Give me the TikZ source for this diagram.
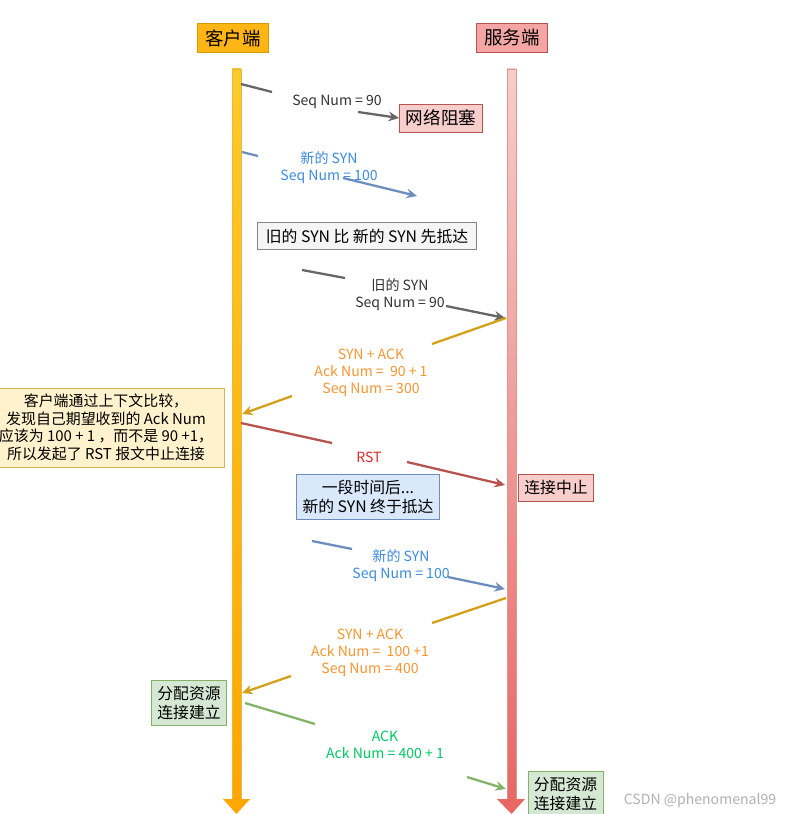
\documentclass[tikz,border=0pt]{standalone}
\usepackage{fontspec}
\setmainfont{Noto Sans CJK SC}
\usepackage{xcolor}
\definecolor{clfill}{RGB}{255,181,20}
\definecolor{clline}{RGB}{215,155,0}
\definecolor{cltop}{RGB}{255,202,40}
\definecolor{clbot}{RGB}{255,166,0}
\definecolor{svfill}{RGB}{244,166,164}
\definecolor{svline}{RGB}{184,84,80}
\definecolor{svtop}{RGB}{248,204,202}
\definecolor{svbot}{RGB}{232,104,100}
\definecolor{pinkfill}{RGB}{248,206,204}
\definecolor{grayfill}{RGB}{245,245,245}
\definecolor{grayline}{RGB}{102,102,102}
\definecolor{notefill}{RGB}{255,242,204}
\definecolor{noteline}{RGB}{214,182,86}
\definecolor{bluefill}{RGB}{218,232,252}
\definecolor{blueline}{RGB}{108,142,191}
\definecolor{bluetext}{RGB}{60,140,220}
\definecolor{greenfill}{RGB}{213,232,212}
\definecolor{greenline}{RGB}{130,179,102}
\definecolor{greentext}{RGB}{0,200,100}
\definecolor{goldline}{RGB}{212,160,23}
\definecolor{orangetext}{RGB}{245,150,50}
\definecolor{redtext}{RGB}{225,40,40}
\usetikzlibrary{arrows.meta,positioning}

\begin{document}
\begin{tikzpicture}[
    x=0.02cm, y=-0.02cm,
    hdr/.style={rectangle, draw, line width=0.6pt, minimum width=1.42cm,
                minimum height=0.54cm, align=center, font=\fontsize{10.5}{12}\selectfont},
    redbox/.style={rectangle, draw=svline, fill=pinkfill, line width=0.5pt,
                   minimum height=0.53cm, align=center},
    graybox/.style={rectangle, draw=grayline!80, fill=grayfill, line width=0.5pt,
                    minimum height=0.55cm, align=center, font=\small},
    notebox/.style={rectangle, draw=noteline, fill=notefill, line width=0.5pt,
                    align=center, font=\fontsize{8.5}{10}\selectfont},
    bluebox/.style={rectangle, draw=blueline, fill=bluefill, line width=0.5pt,
                    align=center, font=\fontsize{9}{10.5}\selectfont},
    greenbox/.style={rectangle, draw=greenline, fill=greenfill, line width=0.5pt,
                     minimum width=1.4cm, minimum height=0.84cm, align=center,
                     font=\fontsize{9}{10.5}\selectfont},
    lbl/.style={align=center, inner sep=0pt, font=\footnotesize},
    msg/.style={line width=1.3pt},
    msgarr/.style={line width=1.3pt, -{Stealth[length=6pt, width=5.5pt, inset=2pt]}}
  ]
    \useasboundingbox (0,0) rectangle (785,814);
    \fill[white] (0,0) rectangle (785,814);
    \clip (0,0) rectangle (785,814);

    % Header row
    \node[hdr, draw=clline, fill=clfill] (h1) at (233,38) {客户端};
    \node[hdr, draw=svline, fill=svfill] (h2) at (512,38) {服务端};

    % Life lines
    \shade[top color=cltop, bottom color=clbot] (232,69) rectangle (241,800);
    \draw[clline!70, line width=0.3pt] (232,69) rectangle (241,800);
    \fill[clbot] (223,799) -- (250,799) -- (236.5,814) -- cycle;
    \shade[top color=svtop, bottom color=svbot] (507,69) rectangle (516,800);
    \draw[svline!60, line width=0.3pt] (507,69) rectangle (516,800);
    \fill[svbot] (497,799) -- (525,799) -- (511.5,814) -- cycle;

    % Boxes
    \node[redbox, minimum width=1.66cm, font=\normalsize] (blk) at (441,118) {网络阻塞};
    \node[graybox, minimum width=4.38cm] (old) at (367,236)
      {旧的 SYN 比 新的 SYN 先抵达};
    \node[notebox, minimum width=4.72cm, minimum height=1.58cm] (note) at (106,427.5)
      {客户端通过上下文比较，\\发现自己期望收到的 Ack Num\\
       应该为 100 + 1 ，而不是 90 +1，\\所以发起了 RST 报文中止连接};
    \node[redbox, minimum width=1.4cm, font=\small] (abort) at (556,488) {连接中止};
    \node[bluebox, minimum width=2.82cm, minimum height=0.84cm] (later) at (368,497)
      {一段时间后...\\新的 SYN 终于抵达};
    \node[greenbox] (est1) at (189,703) {分配资源\\连接建立};
    \node[greenbox, minimum width=1.38cm] (est2) at (565.5,794) {分配资源\\连接建立};

    % Labels
    \node[lbl, text=black!80] (l1) at (337,102) {Seq Num = 90};
    \node[lbl, text=bluetext] (l2) at (329,168) {新的 SYN\\Seq Num = 100};
    \node[lbl, text=black!80] (l3) at (400,295) {旧的 SYN\\Seq Num = 90};
    \node[lbl, text=orangetext] (l4) at (371,373)
      {SYN + ACK\\Ack Num = \ 90 + 1\\Seq Num = 300};
    \node[lbl, text=redtext] (l5) at (369,457) {RST};
    \node[lbl, text=bluetext] (l6) at (401,566) {新的 SYN\\Seq Num = 100};
    \node[lbl, text=orangetext] (l7) at (370,653)
      {SYN + ACK\\Ack Num = \ 100 +1\\Seq Num = 400};
    \node[lbl, text=greentext] (l8) at (385,745) {ACK\\Ack Num = 400 + 1};
    \node[lbl, text=black!30] (wm) at (700,801) {CSDN @phenomenal99};

    % Message end points
    \coordinate (m1a) at (241,84);  \coordinate (m1b) at (272,92);
    \coordinate (m1c) at (358,112);
    \coordinate (m2a) at (242,152); \coordinate (m2b) at (258,156);
    \coordinate (m2c) at (343,178); \coordinate (m2d) at (417,196);
    \coordinate (m3a) at (302,270); \coordinate (m3b) at (345,278);
    \coordinate (m3c) at (446,306); \coordinate (m3d) at (505,318);
    \coordinate (m4a) at (506,318); \coordinate (m4b) at (432,344);
    \coordinate (m4c) at (292,396); \coordinate (m4d) at (242,414);
    \coordinate (m5a) at (241,423); \coordinate (m5b) at (332,443);
    \coordinate (m5c) at (407,462); \coordinate (m5d) at (505,485);
    \coordinate (m6a) at (312,541); \coordinate (m6b) at (352,549);
    \coordinate (m6c) at (448,577); \coordinate (m6d) at (505,589);
    \coordinate (m7a) at (506,598); \coordinate (m7b) at (432,623);
    \coordinate (m7c) at (291,676); \coordinate (m7d) at (242,693);
    \coordinate (m8a) at (245,703); \coordinate (m8b) at (315,724);
    \coordinate (m8c) at (467,777); \coordinate (m8d) at (506,789);

    % Messages
    \draw[msg, grayline] (m1a) -- (m1b);
    \draw[msgarr, grayline] (m1c) -- (blk.west);
    \draw[msg, blueline] (m2a) -- (m2b);
    \draw[msgarr, blueline] (m2c) -- (m2d);
    \draw[msg, grayline] (m3a) -- (m3b);
    \draw[msgarr, grayline] (m3c) -- (m3d);
    \draw[msg, goldline] (m4a) -- (m4b);
    \draw[msgarr, goldline] (m4c) -- (m4d);
    \draw[msg, svline] (m5a) -- (m5b);
    \draw[msgarr, svline] (m5c) -- (m5d);
    \draw[msg, blueline] (m6a) -- (m6b);
    \draw[msgarr, blueline] (m6c) -- (m6d);
    \draw[msg, goldline] (m7a) -- (m7b);
    \draw[msgarr, goldline] (m7c) -- (m7d);
    \draw[msg, greenline] (m8a) -- (m8b);
    \draw[msgarr, greenline] (m8c) -- (m8d);
\end{tikzpicture}
\end{document}
